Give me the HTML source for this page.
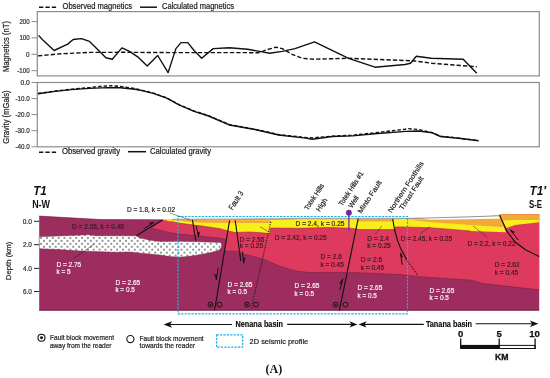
<!DOCTYPE html>
<html><head><meta charset="utf-8"><style>
html,body{margin:0;padding:0;background:#fff;}
svg{display:block;will-change:transform;}
</style></head><body>
<svg width="550" height="378" viewBox="0 0 550 378">
<rect width="550" height="378" fill="#fff"/>
<rect x="37.3" y="11.6" width="502" height="64.3" fill="none" stroke="#8c8c8c" stroke-width="1.2"/>
<line x1="31.5" y1="21.6" x2="37.3" y2="21.6" stroke="#8c8c8c" stroke-width="1" />
<text x="29.6" y="23.900000000000002" font-family='"Liberation Sans", sans-serif' font-size="6.8" fill="#333" font-weight="normal" text-anchor="end"  textLength="10.2" lengthAdjust="spacingAndGlyphs"  stroke="#333" stroke-width="0.22">200</text>
<line x1="31.5" y1="37.9" x2="37.3" y2="37.9" stroke="#8c8c8c" stroke-width="1" />
<text x="29.6" y="40.199999999999996" font-family='"Liberation Sans", sans-serif' font-size="6.8" fill="#333" font-weight="normal" text-anchor="end"  textLength="10.2" lengthAdjust="spacingAndGlyphs"  stroke="#333" stroke-width="0.22">100</text>
<line x1="31.5" y1="54.3" x2="37.3" y2="54.3" stroke="#8c8c8c" stroke-width="1" />
<text x="29.6" y="56.599999999999994" font-family='"Liberation Sans", sans-serif' font-size="6.8" fill="#333" font-weight="normal" text-anchor="end"  textLength="3.5" lengthAdjust="spacingAndGlyphs"  stroke="#333" stroke-width="0.22">0</text>
<line x1="31.5" y1="70.7" x2="37.3" y2="70.7" stroke="#8c8c8c" stroke-width="1" />
<text x="29.6" y="73.0" font-family='"Liberation Sans", sans-serif' font-size="6.8" fill="#333" font-weight="normal" text-anchor="end"  textLength="12.3" lengthAdjust="spacingAndGlyphs"  stroke="#333" stroke-width="0.22">-100</text>
<rect x="37.3" y="82.5" width="502" height="64.3" fill="none" stroke="#8c8c8c" stroke-width="1.2"/>
<line x1="31.5" y1="82.5" x2="37.3" y2="82.5" stroke="#8c8c8c" stroke-width="1" />
<text x="29.8" y="84.8" font-family='"Liberation Sans", sans-serif' font-size="6.8" fill="#333" font-weight="normal" text-anchor="end"  textLength="9.2" lengthAdjust="spacingAndGlyphs"  stroke="#333" stroke-width="0.22">0.0</text>
<line x1="31.5" y1="98.6" x2="37.3" y2="98.6" stroke="#8c8c8c" stroke-width="1" />
<text x="29.8" y="100.89999999999999" font-family='"Liberation Sans", sans-serif' font-size="6.8" fill="#333" font-weight="normal" text-anchor="end"  textLength="14.3" lengthAdjust="spacingAndGlyphs"  stroke="#333" stroke-width="0.22">-10.0</text>
<line x1="31.5" y1="114.6" x2="37.3" y2="114.6" stroke="#8c8c8c" stroke-width="1" />
<text x="29.8" y="116.89999999999999" font-family='"Liberation Sans", sans-serif' font-size="6.8" fill="#333" font-weight="normal" text-anchor="end"  textLength="14.3" lengthAdjust="spacingAndGlyphs"  stroke="#333" stroke-width="0.22">-20.0</text>
<line x1="31.5" y1="130.7" x2="37.3" y2="130.7" stroke="#8c8c8c" stroke-width="1" />
<text x="29.8" y="133.0" font-family='"Liberation Sans", sans-serif' font-size="6.8" fill="#333" font-weight="normal" text-anchor="end"  textLength="14.3" lengthAdjust="spacingAndGlyphs"  stroke="#333" stroke-width="0.22">-30.0</text>
<line x1="31.5" y1="146.8" x2="37.3" y2="146.8" stroke="#8c8c8c" stroke-width="1" />
<text x="29.8" y="149.10000000000002" font-family='"Liberation Sans", sans-serif' font-size="6.8" fill="#333" font-weight="normal" text-anchor="end"  textLength="14.3" lengthAdjust="spacingAndGlyphs"  stroke="#333" stroke-width="0.22">-40.0</text>
<text transform="translate(8.9,46.5) rotate(-90)" x="0" y="0" font-family='"Liberation Sans", sans-serif' font-size="8.2" fill="#222" stroke="#222" stroke-width="0.2" font-weight="normal" text-anchor="middle" textLength="51" lengthAdjust="spacingAndGlyphs">Magnetics (nT)</text>
<text transform="translate(8.8,117) rotate(-90)" x="0" y="0" font-family='"Liberation Sans", sans-serif' font-size="8.2" fill="#222" stroke="#222" stroke-width="0.2" font-weight="normal" text-anchor="middle" textLength="53.3" lengthAdjust="spacingAndGlyphs">Gravity (mGals)</text>
<text transform="translate(10.9,261) rotate(-90)" x="0" y="0" font-family='"Liberation Sans", sans-serif' font-size="8.0" fill="#222" stroke="#222" stroke-width="0.2" font-weight="normal" text-anchor="middle" textLength="38.4" lengthAdjust="spacingAndGlyphs">Depth (km)</text>
<line x1="39" y1="7.2" x2="56.5" y2="7.2" stroke="#111" stroke-width="1.6" stroke-dasharray="4.3,2.1"/>
<text x="62.5" y="8.8" font-family='"Liberation Sans", sans-serif' font-size="8.4" fill="#222" font-weight="normal" text-anchor="start"  textLength="69.5" lengthAdjust="spacingAndGlyphs"  stroke="#222" stroke-width="0.22">Observed magnetics</text>
<line x1="140" y1="7.2" x2="157" y2="7.2" stroke="#111" stroke-width="1.5" />
<text x="162" y="8.8" font-family='"Liberation Sans", sans-serif' font-size="8.4" fill="#222" font-weight="normal" text-anchor="start"  textLength="72" lengthAdjust="spacingAndGlyphs"  stroke="#222" stroke-width="0.22">Calculated magnetics</text>
<line x1="39" y1="152.2" x2="56.5" y2="152.2" stroke="#111" stroke-width="1.6" stroke-dasharray="4.3,2.1"/>
<text x="62" y="154" font-family='"Liberation Sans", sans-serif' font-size="8.4" fill="#222" font-weight="normal" text-anchor="start"  textLength="58" lengthAdjust="spacingAndGlyphs"  stroke="#222" stroke-width="0.22">Observed gravity</text>
<line x1="128" y1="151.7" x2="146" y2="151.7" stroke="#111" stroke-width="1.5" />
<text x="150" y="154" font-family='"Liberation Sans", sans-serif' font-size="8.4" fill="#222" font-weight="normal" text-anchor="start"  textLength="61" lengthAdjust="spacingAndGlyphs"  stroke="#222" stroke-width="0.22">Calculated gravity</text>
<polyline points="38.6,35.4 42.3,39.5 54.1,50.5 67.7,44.1 73.2,39.5 81.4,38.6 89.5,41.4 97.7,49.5 105.9,57.7 112.3,59.2 121.9,47.9 129.5,51.4 137.7,56.8 147.2,65.9 157.7,55.5 168.1,72.6 175.9,48.6 181.0,42.6 187.7,42.6 194.1,50.5 201.7,58.3 213.2,48.6 229.5,47.7 247.7,49.2 262.3,51.9 269.5,53.2 282.3,51.4 295.0,48.6 314.5,41.9 348.6,58.3 375.0,67.2 405.0,64.5 410.5,63.2 416.3,56.3 431.4,58.3 463.2,59.2 476.8,73.2" fill="none" stroke="#111" stroke-width="1.4" stroke-linejoin="round" />
<polyline points="38.0,55.9 60.0,53.8 90.0,52.4 125.0,52.3 170.0,52.6 215.0,52.6 258.6,52.7 267.7,49.5 275.9,47.2 282.3,48.6 291.4,54.1 302.3,58.3 314.0,59.2 348.6,58.3 405.0,60.5 415.0,61.0 431.4,63.2 476.8,66.8" fill="none" stroke="#111" stroke-width="1.4" stroke-linejoin="round" stroke-dasharray="4.3,2.1"/>
<polyline points="38.0,93.8 53.2,91.6 71.4,89.6 89.5,88.4 107.7,87.6 120.5,87.7 135.0,89.2 143.2,90.9 154.1,93.6 166.8,98.2 179.5,105.1 194.1,111.3 208.6,116.0 225.0,123.1 229.5,125.0 255.0,129.5 278.6,135.0 305.9,138.1 312.3,139.2 332.3,136.5 352.3,135.9 377.7,133.5 405.9,131.4 418.6,131.0 432.3,132.8 440.5,136.5 458.6,138.3 478.6,140.8" fill="none" stroke="#111" stroke-width="1.4" stroke-linejoin="round" />
<polyline points="38.0,93.5 53.2,91.3 71.4,89.2 89.5,87.6 100.0,86.4 107.7,85.9 111.4,85.8 120.5,86.4 135.0,88.6 143.2,90.6 154.1,93.3 166.8,98.0 179.5,104.8 194.1,111.0 208.6,115.7 225.0,122.6 229.5,124.6 255.0,129.2 278.6,134.6 305.9,137.5 312.3,137.9 332.3,136.1 352.3,135.3 377.7,132.5 405.0,129.2 407.7,128.6 418.6,129.5 432.3,132.6 440.5,136.2 458.6,138.1 478.6,140.6" fill="none" stroke="#111" stroke-width="1.4" stroke-linejoin="round" stroke-dasharray="3.5,2"/>
<polygon points="39.2,216.0 100.0,219.4 160.0,219.8 230.0,219.8 300.0,218.6 400.0,218.7 430.0,218.3 470.0,216.9 499.3,215.6 500.0,214.3 539.2,214.2 539.2,310.6 39.2,310.6" fill="#9E2D5F" stroke="none" stroke-width="0" />
<polygon points="151.5,228.2 161.0,230.4 172.0,233.2 180.0,234.0 190.0,235.1 200.0,236.1 212.0,237.3 220.0,238.0 226.3,239.6 224.6,251.0 240.3,251.5 241.0,254.0 247.6,255.0 255.0,256.8 262.9,259.1 270.0,262.0 278.2,265.5 288.0,268.8 297.3,271.2 310.0,272.5 345.5,272.3 367.3,273.0 400.0,274.6 418.2,276.5 471.7,280.2 483.0,283.6 539.2,289.8 539.2,214.2 500.0,214.3 499.3,215.6 470.0,216.9 430.0,218.3 400.0,218.7 300.0,218.6 230.0,219.8 162.7,219.9" fill="#DE3A5E" stroke="none" stroke-width="0" />
<polygon points="163.7,219.8 170.0,221.4 180.0,223.3 190.0,224.6 200.0,225.8 210.0,227.2 220.0,228.7 228.0,230.9 235.0,232.5 250.0,232.0 265.0,233.1 269.5,233.6 270.5,228.0 300.0,228.3 330.0,227.4 350.0,228.2 360.0,229.5 394.5,229.5 395.5,227.0 400.0,226.9 430.0,227.7 470.0,230.9 506.0,232.3 506.0,232.3 499.5,216.0 470.0,217.4 430.0,218.6 400.0,219.0 300.0,219.0 230.0,220.2 163.7,219.8" fill="#F8EE1A" stroke="none" stroke-width="0" />
<polygon points="500.0,215.8 539.2,215.8 539.2,222.3 515.0,225.0 506.2,228.0" fill="#F8EE1A" stroke="none" stroke-width="0" />
<polygon points="176.0,220.0 198.0,220.1 215.0,220.2 271.2,220.4 271.0,223.1 215.0,223.0 198.0,222.6 185.0,221.4" fill="#F3A83A" stroke="none" stroke-width="0" />
<polygon points="358.3,218.6 392.8,218.7 393.2,221.6 357.8,221.5" fill="#F3A83A" stroke="none" stroke-width="0" />
<polygon points="408.0,219.6 430.0,219.4 470.0,218.9 499.6,218.4 505.1,227.3 490.0,226.3 470.0,225.0 450.0,223.5 430.0,222.0 415.0,220.6" fill="#F3A83A" stroke="none" stroke-width="0" />
<polygon points="500.0,214.3 539.2,214.2 539.2,220.0 515.0,220.0 503.0,220.5 501.0,218.0" fill="#F3A83A" stroke="none" stroke-width="0" />
<polygon points="420.0,218.2 470.0,216.9 499.3,215.6 499.6,218.5 470.0,219.3 430.0,219.4" fill="#ffffff" stroke="none" stroke-width="0" />
<polyline points="172.0,219.5 230.0,219.3 270.0,219.0 300.0,218.5 400.0,218.5" fill="none" stroke="#a8a8a8" stroke-width="1.5" stroke-linejoin="round" />
<polyline points="400.0,218.5 430.0,217.9 470.0,216.8 499.3,215.8" fill="none" stroke="#9a9a9a" stroke-width="1.0" stroke-linejoin="round" />
<polyline points="170.0,221.4 180.0,223.3 190.0,224.6 200.0,225.8 210.0,227.2 220.0,228.7 228.0,230.9 235.0,232.5 250.0,232.0 265.0,233.1 269.5,233.6 270.5,228.0 300.0,228.3 330.0,227.4 350.0,228.2 360.0,229.5 394.5,229.5 395.5,227.0 400.0,226.9 430.0,227.7 470.0,230.9" fill="none" stroke="#9a2a3a" stroke-width="0.6" stroke-linejoin="round" />
<defs><pattern id="dots" x="40.1" y="236.9" width="5.85" height="5.9" patternUnits="userSpaceOnUse"><rect width="5.85" height="5.9" fill="#fff"/><rect x="0.4" y="0.2" width="1.2" height="1.6" fill="#262626"/><rect x="3.32" y="3.15" width="1.2" height="1.6" fill="#262626"/></pattern></defs>
<polygon points="39.2,236.7 88.7,234.8 96.0,235.7 135.8,235.8 140.0,237.9 150.0,240.2 160.0,241.6 180.0,241.3 200.0,241.8 220.0,242.6 221.8,243.6 221.4,247.5 218.5,250.5 210.0,252.7 195.0,255.5 180.0,257.3 170.0,256.6 160.0,255.1 140.9,253.2 130.0,252.0 115.4,252.3 81.3,251.1 59.0,249.6 39.2,248.7" fill="url(#dots)" stroke="#5a2a3a" stroke-width="0.4" />
<polyline points="136.6,235.5 162.6,220.1" fill="none" stroke="#111" stroke-width="1.15" stroke-linejoin="round" />
<polyline points="192.4,219.8 195.8,240.6" fill="none" stroke="#111" stroke-width="1.1" stroke-linejoin="round" />
<polyline points="229.6,220.4 215.6,304.6 214.1,310.4" fill="none" stroke="#111" stroke-width="1.1" stroke-linejoin="round" />
<polyline points="235.2,220.4 240.8,261.1" fill="none" stroke="#111" stroke-width="1.1" stroke-linejoin="round" />
<polyline points="270.8,222.0 264.4,250.5 251.2,308.5" fill="none" stroke="#1a1a1a" stroke-width="1.25" stroke-linejoin="round" stroke-dasharray="1.0,1.3"/>
<polyline points="358.2,218.5 339.3,310.9" fill="none" stroke="#111" stroke-width="1.15" stroke-linejoin="round" />
<polyline points="392.7,218.8 394.5,229.5 397.4,240.0 400.6,248.4 405.8,258.0 407.4,261.0" fill="none" stroke="#111" stroke-width="1.1" stroke-linejoin="round" />
<polyline points="407.4,261.0 418.0,275.5" fill="none" stroke="#111" stroke-width="1.0" stroke-linejoin="round" stroke-dasharray="1.8,1.3"/>
<polyline points="499.6,215.3 506.9,231.2 514.8,241.7 525.4,249.7 539.2,256.4" fill="none" stroke="#111" stroke-width="1.15" stroke-linejoin="round" />
<line x1="39.2" y1="310.1" x2="539.2" y2="310.1" stroke="#6a1a40" stroke-width="0.9" />
<polyline points="39.2,216.1 100.0,219.5 163.0,219.8" fill="none" stroke="#6a1a40" stroke-width="0.6" stroke-linejoin="round" />
<polyline points="151.5,228.2 161.0,230.4 172.0,233.2 180.0,234.0 190.0,235.1 200.0,236.1 212.0,237.3 220.0,238.0 226.3,239.6" fill="none" stroke="#6a2038" stroke-width="0.5" stroke-linejoin="round" />
<polyline points="224.6,251.0 240.3,251.5 241.0,254.0 247.6,255.0 255.0,256.8 262.9,259.1 270.0,262.0 278.2,265.5 288.0,268.8 297.3,271.2 310.0,272.5 345.5,272.3 367.3,273.0 400.0,274.6 418.2,276.5 471.7,280.2 483.0,283.6 539.2,289.8" fill="none" stroke="#6a2038" stroke-width="0.5" stroke-linejoin="round" />
<line x1="144" y1="228.9" x2="153.8" y2="222.4" stroke="#111" stroke-width="1.0" stroke-linecap="round"/>
<polygon points="153.8,222.4 149.6,222.7 150.8,224.4" fill="#111" stroke="#111" stroke-width="0.4" />
<line x1="196.3" y1="226.4" x2="198.5" y2="236.5" stroke="#111" stroke-width="1.0" stroke-linecap="round"/>
<polygon points="198.5,236.5 199.8,231.9 197.7,233.0" fill="#111" stroke="#111" stroke-width="0.4" />
<line x1="218.1" y1="268.2" x2="216.3" y2="279.5" stroke="#111" stroke-width="1.0" stroke-linecap="round"/>
<polygon points="216.3,279.5 214.6,274.2 216.9,275.9" fill="#111" stroke="#111" stroke-width="0.4" />
<line x1="242.5" y1="252.1" x2="243.7" y2="262.9" stroke="#111" stroke-width="1.0" stroke-linecap="round"/>
<polygon points="243.7,262.9 245.3,257.6 243.3,259.3" fill="#111" stroke="#111" stroke-width="0.4" />
<line x1="339.9" y1="289.8" x2="342.7" y2="279.1" stroke="#111" stroke-width="1.0" stroke-linecap="round"/>
<polygon points="342.7,279.1 339.6,283.4 341.8,282.6" fill="#111" stroke="#111" stroke-width="0.4" />
<line x1="402.1" y1="264.3" x2="400.6" y2="253.2" stroke="#111" stroke-width="1.0" stroke-linecap="round"/>
<polygon points="400.6,253.2 402.9,257.2 401.1,256.8" fill="#111" stroke="#111" stroke-width="0.4" />
<line x1="518.1" y1="239.8" x2="510.2" y2="229.8" stroke="#111" stroke-width="1.0" stroke-linecap="round"/>
<polygon points="510.2,229.8 514.6,232.2 512.4,232.6" fill="#111" stroke="#111" stroke-width="0.4" />
<circle cx="210.5" cy="304.6" r="2.4" fill="none" stroke="#111" stroke-width="0.95"/><circle cx="210.5" cy="304.6" r="0.95" fill="#111"/>
<circle cx="219.5" cy="304.6" r="2.4" fill="none" stroke="#111" stroke-width="0.95"/>
<circle cx="247" cy="304.6" r="2.4" fill="none" stroke="#111" stroke-width="0.95"/><circle cx="247" cy="304.6" r="0.95" fill="#111"/>
<circle cx="256" cy="304.6" r="2.4" fill="none" stroke="#111" stroke-width="0.95"/>
<circle cx="335.6" cy="304.6" r="2.4" fill="none" stroke="#111" stroke-width="0.95"/><circle cx="335.6" cy="304.6" r="0.95" fill="#111"/>
<circle cx="345.5" cy="304.6" r="2.4" fill="none" stroke="#111" stroke-width="0.95"/>
<rect x="178" y="216.5" width="229.5" height="97.3" fill="none" stroke="#1CAEE6" stroke-width="1.2" stroke-dasharray="2.2,1.2"/>
<line x1="348.9" y1="213" x2="348.9" y2="230.8" stroke="#7a3296" stroke-width="1.3" />
<circle cx="348.9" cy="212.7" r="2.9" fill="#6a2a92"/>
<line x1="170" y1="213" x2="190.4" y2="220" stroke="#333" stroke-width="0.5" />
<line x1="94.3" y1="244" x2="73.7" y2="258.5" stroke="#222" stroke-width="0.5" />
<line x1="260" y1="226.7" x2="268.2" y2="231.6" stroke="#222" stroke-width="0.5" />
<line x1="375.5" y1="234.1" x2="381.8" y2="225.9" stroke="#222" stroke-width="0.5" />
<line x1="420" y1="234.1" x2="430" y2="226.5" stroke="#222" stroke-width="0.5" />
<line x1="473" y1="226" x2="487" y2="237" stroke="#222" stroke-width="0.5" />
<text x="72" y="228.85" font-family='"Liberation Sans", sans-serif' font-size="8.1" fill="#3b1a24" font-weight="normal" text-anchor="start"  textLength="52" lengthAdjust="spacingAndGlyphs"  stroke="#3b1a24" stroke-width="0.22">D = 2.65, k = 0.48</text>
<text x="127" y="211.65" font-family='"Liberation Sans", sans-serif' font-size="8.1" fill="#222" font-weight="normal" text-anchor="start"  textLength="48" lengthAdjust="spacingAndGlyphs"  stroke="#222" stroke-width="0.22">D = 1.8, k = 0.02</text>
<text x="56.4" y="267.25" font-family='"Liberation Sans", sans-serif' font-size="8.1" fill="#faf2f6" font-weight="normal" text-anchor="start"  textLength="24.8" lengthAdjust="spacingAndGlyphs"  stroke="#faf2f6" stroke-width="0.22">D = 2.75</text>
<text x="56.4" y="274.25" font-family='"Liberation Sans", sans-serif' font-size="8.1" fill="#faf2f6" font-weight="normal" text-anchor="start"  textLength="14.2" lengthAdjust="spacingAndGlyphs"  stroke="#faf2f6" stroke-width="0.22">k = 5</text>
<text x="115.4" y="284.5" font-family='"Liberation Sans", sans-serif' font-size="8.1" fill="#faf2f6" font-weight="normal" text-anchor="start"  textLength="24.8" lengthAdjust="spacingAndGlyphs"  stroke="#faf2f6" stroke-width="0.22">D = 2.65</text>
<text x="115.4" y="291.5" font-family='"Liberation Sans", sans-serif' font-size="8.1" fill="#faf2f6" font-weight="normal" text-anchor="start"  textLength="19.4" lengthAdjust="spacingAndGlyphs"  stroke="#faf2f6" stroke-width="0.22">k = 0.5</text>
<text x="239.8" y="241.5" font-family='"Liberation Sans", sans-serif' font-size="8.1" fill="#3b1a24" font-weight="normal" text-anchor="start"  textLength="24.6" lengthAdjust="spacingAndGlyphs"  stroke="#3b1a24" stroke-width="0.22">D = 2.55</text>
<text x="239.8" y="248.4" font-family='"Liberation Sans", sans-serif' font-size="8.1" fill="#3b1a24" font-weight="normal" text-anchor="start"  textLength="23.2" lengthAdjust="spacingAndGlyphs"  stroke="#3b1a24" stroke-width="0.22">k = 0.25</text>
<text x="227.6" y="286.5" font-family='"Liberation Sans", sans-serif' font-size="8.1" fill="#faf2f6" font-weight="normal" text-anchor="start"  textLength="24.8" lengthAdjust="spacingAndGlyphs"  stroke="#faf2f6" stroke-width="0.22">D = 2.65</text>
<text x="227.6" y="293.75" font-family='"Liberation Sans", sans-serif' font-size="8.1" fill="#faf2f6" font-weight="normal" text-anchor="start"  textLength="19.4" lengthAdjust="spacingAndGlyphs"  stroke="#faf2f6" stroke-width="0.22">k = 0.5</text>
<text x="274.8" y="239.65" font-family='"Liberation Sans", sans-serif' font-size="8.1" fill="#3b1a24" font-weight="normal" text-anchor="start"  textLength="51.8" lengthAdjust="spacingAndGlyphs"  stroke="#3b1a24" stroke-width="0.22">D = 2.42, k = 0.25</text>
<text x="295.5" y="226.04999999999998" font-family='"Liberation Sans", sans-serif' font-size="8.1" fill="#3b1a24" font-weight="normal" text-anchor="start"  textLength="49" lengthAdjust="spacingAndGlyphs"  stroke="#3b1a24" stroke-width="0.22">D = 2.4, k = 0.25</text>
<text x="320.4" y="259.20000000000005" font-family='"Liberation Sans", sans-serif' font-size="8.1" fill="#3b1a24" font-weight="normal" text-anchor="start"  textLength="21.6" lengthAdjust="spacingAndGlyphs"  stroke="#3b1a24" stroke-width="0.22">D = 2.6</text>
<text x="320.4" y="266.75" font-family='"Liberation Sans", sans-serif' font-size="8.1" fill="#3b1a24" font-weight="normal" text-anchor="start"  textLength="23.4" lengthAdjust="spacingAndGlyphs"  stroke="#3b1a24" stroke-width="0.22">k = 0.45</text>
<text x="294.6" y="288.25" font-family='"Liberation Sans", sans-serif' font-size="8.1" fill="#faf2f6" font-weight="normal" text-anchor="start"  textLength="24.8" lengthAdjust="spacingAndGlyphs"  stroke="#faf2f6" stroke-width="0.22">D = 2.65</text>
<text x="294.6" y="295.8" font-family='"Liberation Sans", sans-serif' font-size="8.1" fill="#faf2f6" font-weight="normal" text-anchor="start"  textLength="19.4" lengthAdjust="spacingAndGlyphs"  stroke="#faf2f6" stroke-width="0.22">k = 0.5</text>
<text x="367.3" y="241.1" font-family='"Liberation Sans", sans-serif' font-size="8.1" fill="#3b1a24" font-weight="normal" text-anchor="start"  textLength="21.6" lengthAdjust="spacingAndGlyphs"  stroke="#3b1a24" stroke-width="0.22">D = 2.4</text>
<text x="367.3" y="247.75" font-family='"Liberation Sans", sans-serif' font-size="8.1" fill="#3b1a24" font-weight="normal" text-anchor="start"  textLength="23.4" lengthAdjust="spacingAndGlyphs"  stroke="#3b1a24" stroke-width="0.22">k = 0.25</text>
<text x="360.7" y="262.40000000000003" font-family='"Liberation Sans", sans-serif' font-size="8.1" fill="#3b1a24" font-weight="normal" text-anchor="start"  textLength="21.6" lengthAdjust="spacingAndGlyphs"  stroke="#3b1a24" stroke-width="0.22">D = 2.6</text>
<text x="360.7" y="269.75" font-family='"Liberation Sans", sans-serif' font-size="8.1" fill="#3b1a24" font-weight="normal" text-anchor="start"  textLength="23.4" lengthAdjust="spacingAndGlyphs"  stroke="#3b1a24" stroke-width="0.22">k = 0.45</text>
<text x="357.5" y="290.1" font-family='"Liberation Sans", sans-serif' font-size="8.1" fill="#faf2f6" font-weight="normal" text-anchor="start"  textLength="24.8" lengthAdjust="spacingAndGlyphs"  stroke="#faf2f6" stroke-width="0.22">D = 2.65</text>
<text x="357.5" y="297.65000000000003" font-family='"Liberation Sans", sans-serif' font-size="8.1" fill="#faf2f6" font-weight="normal" text-anchor="start"  textLength="19.4" lengthAdjust="spacingAndGlyphs"  stroke="#faf2f6" stroke-width="0.22">k = 0.5</text>
<text x="400.7" y="240.75" font-family='"Liberation Sans", sans-serif' font-size="8.1" fill="#3b1a24" font-weight="normal" text-anchor="start"  textLength="51.3" lengthAdjust="spacingAndGlyphs"  stroke="#3b1a24" stroke-width="0.22">D = 2.45, k = 0.25</text>
<text x="467.5" y="246.45" font-family='"Liberation Sans", sans-serif' font-size="8.1" fill="#3b1a24" font-weight="normal" text-anchor="start"  textLength="48" lengthAdjust="spacingAndGlyphs"  stroke="#3b1a24" stroke-width="0.22">D = 2.2, k = 0.22</text>
<text x="494.8" y="267.20000000000005" font-family='"Liberation Sans", sans-serif' font-size="8.1" fill="#3b1a24" font-weight="normal" text-anchor="start"  textLength="24.8" lengthAdjust="spacingAndGlyphs"  stroke="#3b1a24" stroke-width="0.22">D = 2.62</text>
<text x="494.8" y="275.45000000000005" font-family='"Liberation Sans", sans-serif' font-size="8.1" fill="#3b1a24" font-weight="normal" text-anchor="start"  textLength="23.4" lengthAdjust="spacingAndGlyphs"  stroke="#3b1a24" stroke-width="0.22">k = 0.45</text>
<text x="429.5" y="292.6" font-family='"Liberation Sans", sans-serif' font-size="8.1" fill="#faf2f6" font-weight="normal" text-anchor="start"  textLength="24.8" lengthAdjust="spacingAndGlyphs"  stroke="#faf2f6" stroke-width="0.22">D = 2.65</text>
<text x="429.5" y="300.25" font-family='"Liberation Sans", sans-serif' font-size="8.1" fill="#faf2f6" font-weight="normal" text-anchor="start"  textLength="19.4" lengthAdjust="spacingAndGlyphs"  stroke="#faf2f6" stroke-width="0.22">k = 0.5</text>
<text x="33.2" y="194.9" font-family='"Liberation Sans", sans-serif' font-size="13.7" fill="#111" font-weight="bold" text-anchor="start" font-style="italic" textLength="13.6" lengthAdjust="spacingAndGlyphs" >T1</text>
<text x="32.2" y="208.1" font-family='"Liberation Sans", sans-serif' font-size="10.8" fill="#111" font-weight="bold" text-anchor="start"  textLength="17.8" lengthAdjust="spacingAndGlyphs" >N-W</text>
<text x="529.6" y="195.1" font-family='"Liberation Sans", sans-serif' font-size="13.7" fill="#111" font-weight="bold" text-anchor="start" font-style="italic" textLength="16.6" lengthAdjust="spacingAndGlyphs" >T1&#8242;</text>
<text x="529" y="207.8" font-family='"Liberation Sans", sans-serif' font-size="10.4" fill="#111" font-weight="bold" text-anchor="start"  textLength="13.1" lengthAdjust="spacingAndGlyphs" >S-E</text>
<text transform="translate(238.19,201.79) rotate(-57)" font-family='"Liberation Sans", sans-serif' font-size="7.8" fill="#222" stroke="#222" stroke-width="0.18" text-anchor="middle" textLength="21" lengthAdjust="spacingAndGlyphs">Fault 3</text>
<text transform="translate(316.25,198.13) rotate(-57)" font-family='"Liberation Sans", sans-serif' font-size="7.0" fill="#222" stroke="#222" stroke-width="0.18" text-anchor="middle" textLength="30" lengthAdjust="spacingAndGlyphs">Totek Hills</text>
<text transform="translate(323.65,205.93) rotate(-57)" font-family='"Liberation Sans", sans-serif' font-size="7.0" fill="#222" stroke="#222" stroke-width="0.18" text-anchor="middle" textLength="14.3" lengthAdjust="spacingAndGlyphs">High</text>
<text transform="translate(353.05,189.93) rotate(-57)" font-family='"Liberation Sans", sans-serif' font-size="7.0" fill="#222" stroke="#222" stroke-width="0.18" text-anchor="middle" textLength="39.5" lengthAdjust="spacingAndGlyphs">Totek Hills #1</text>
<text transform="translate(355.55,203.13) rotate(-57)" font-family='"Liberation Sans", sans-serif' font-size="7.0" fill="#222" stroke="#222" stroke-width="0.18" text-anchor="middle" textLength="12.9" lengthAdjust="spacingAndGlyphs">Well</text>
<text transform="translate(371.55,198.23) rotate(-57)" font-family='"Liberation Sans", sans-serif' font-size="7.0" fill="#222" stroke="#222" stroke-width="0.18" text-anchor="middle" textLength="37.7" lengthAdjust="spacingAndGlyphs">Minto Fault</text>
<text transform="translate(407.75,188.33) rotate(-57)" font-family='"Liberation Sans", sans-serif' font-size="7.0" fill="#222" stroke="#222" stroke-width="0.18" text-anchor="middle" textLength="59.5" lengthAdjust="spacingAndGlyphs">Northern Foothills</text>
<text transform="translate(413.25,194.43) rotate(-57)" font-family='"Liberation Sans", sans-serif' font-size="7.0" fill="#222" stroke="#222" stroke-width="0.18" text-anchor="middle" textLength="38.5" lengthAdjust="spacingAndGlyphs">Thrust Fault</text>
<line x1="34" y1="221.3" x2="39.3" y2="221.3" stroke="#222" stroke-width="1" />
<text x="31.9" y="223.60000000000002" font-family='"Liberation Sans", sans-serif' font-size="6.8" fill="#333" font-weight="normal" text-anchor="end"  textLength="9.2" lengthAdjust="spacingAndGlyphs"  stroke="#333" stroke-width="0.22">0.0</text>
<line x1="34" y1="244.7" x2="39.3" y2="244.7" stroke="#222" stroke-width="1" />
<text x="31.9" y="247.0" font-family='"Liberation Sans", sans-serif' font-size="6.8" fill="#333" font-weight="normal" text-anchor="end"  textLength="9.0" lengthAdjust="spacingAndGlyphs"  stroke="#333" stroke-width="0.22">2.0</text>
<line x1="34" y1="268.4" x2="39.3" y2="268.4" stroke="#222" stroke-width="1" />
<text x="31.9" y="270.7" font-family='"Liberation Sans", sans-serif' font-size="6.8" fill="#333" font-weight="normal" text-anchor="end"  textLength="9.0" lengthAdjust="spacingAndGlyphs"  stroke="#333" stroke-width="0.22">4.0</text>
<line x1="34" y1="291.5" x2="39.3" y2="291.5" stroke="#222" stroke-width="1" />
<text x="31.9" y="293.8" font-family='"Liberation Sans", sans-serif' font-size="6.8" fill="#333" font-weight="normal" text-anchor="end"  textLength="9.0" lengthAdjust="spacingAndGlyphs"  stroke="#333" stroke-width="0.22">6.0</text>
<line x1="166" y1="324.5" x2="232" y2="324.5" stroke="#111" stroke-width="1.1" />
<polygon points="163.6,324.5 172.0,321.3 170.0,324.5 172.0,327.7" fill="#111" stroke="none" stroke-width="0" />
<text x="235.5" y="327.2" font-family='"Liberation Sans", sans-serif' font-size="9" fill="#111" font-weight="bold" text-anchor="start"  textLength="47.5" lengthAdjust="spacingAndGlyphs"  stroke="#111" stroke-width="0.2">Nenana basin</text>
<line x1="287.2" y1="324.4" x2="352" y2="324.4" stroke="#111" stroke-width="1.1" />
<polygon points="357.5,324.4 349.5,321.2 351.5,324.4 349.5,327.6" fill="#111" stroke="none" stroke-width="0" />
<polygon points="358.5,324.4 366.5,321.2 364.5,324.4 366.5,327.6" fill="#111" stroke="none" stroke-width="0" />
<line x1="364" y1="324.4" x2="423.8" y2="324.4" stroke="#111" stroke-width="1.1" />
<text x="425.9" y="327" font-family='"Liberation Sans", sans-serif' font-size="9" fill="#111" font-weight="bold" text-anchor="start"  textLength="46.1" lengthAdjust="spacingAndGlyphs"  stroke="#111" stroke-width="0.2">Tanana basin</text>
<line x1="475.6" y1="323.8" x2="533" y2="323.8" stroke="#111" stroke-width="1.1" />
<polygon points="538.4,323.8 530.0,320.6 532.0,323.8 530.0,327.0" fill="#111" stroke="none" stroke-width="0" />
<text x="460.7" y="336.5" font-family='"Liberation Sans", sans-serif' font-size="9.6" fill="#111" font-weight="bold" text-anchor="middle"    stroke="#111" stroke-width="0.25">0</text>
<text x="499.2" y="336.5" font-family='"Liberation Sans", sans-serif' font-size="9.6" fill="#111" font-weight="bold" text-anchor="middle"    stroke="#111" stroke-width="0.25">5</text>
<text x="534.6" y="336.5" font-family='"Liberation Sans", sans-serif' font-size="9.6" fill="#111" font-weight="bold" text-anchor="middle"    stroke="#111" stroke-width="0.25">10</text>
<rect x="460.7" y="344.9" width="38.5" height="4.1" fill="#111"/>
<rect x="499.2" y="345.4" width="35.9" height="3.1" fill="#fff" stroke="#111" stroke-width="1.0"/>
<line x1="460.7" y1="338.4" x2="460.7" y2="349" stroke="#111" stroke-width="1.3" />
<line x1="499.2" y1="338.4" x2="499.2" y2="349" stroke="#111" stroke-width="1.3" />
<line x1="535.1" y1="338.4" x2="535.1" y2="349" stroke="#111" stroke-width="1.3" />
<text x="501.8" y="359.9" font-family='"Liberation Sans", sans-serif' font-size="9.4" fill="#111" font-weight="bold" text-anchor="middle"  textLength="13.6" lengthAdjust="spacingAndGlyphs"  stroke="#111" stroke-width="0.3">KM</text>
<circle cx="41.5" cy="337.7" r="3.5" fill="none" stroke="#111" stroke-width="1.1"/><circle cx="41.5" cy="337.7" r="1.45" fill="#111"/>
<circle cx="130.4" cy="339.1" r="3.6" fill="none" stroke="#111" stroke-width="1.1"/>
<text x="50" y="340" font-family='"Liberation Sans", sans-serif' font-size="7.6" fill="#222" font-weight="normal" text-anchor="start"  textLength="64" lengthAdjust="spacingAndGlyphs"  stroke="#222" stroke-width="0.22">Fault block movement</text>
<text x="50" y="348.4" font-family='"Liberation Sans", sans-serif' font-size="7.6" fill="#222" font-weight="normal" text-anchor="start"  textLength="61.5" lengthAdjust="spacingAndGlyphs"  stroke="#222" stroke-width="0.22">away from the reader</text>
<text x="139.6" y="340.6" font-family='"Liberation Sans", sans-serif' font-size="7.6" fill="#222" font-weight="normal" text-anchor="start"  textLength="64" lengthAdjust="spacingAndGlyphs"  stroke="#222" stroke-width="0.22">Fault block movement</text>
<text x="139.6" y="348.4" font-family='"Liberation Sans", sans-serif' font-size="7.6" fill="#222" font-weight="normal" text-anchor="start"  textLength="55.5" lengthAdjust="spacingAndGlyphs"  stroke="#222" stroke-width="0.22">towards the reader</text>
<rect x="216.6" y="334.9" width="26" height="12.3" fill="none" stroke="#1CAEE6" stroke-width="1.3" stroke-dasharray="2.2,1.2"/>
<text x="249.6" y="343.8" font-family='"Liberation Sans", sans-serif' font-size="8" fill="#222" font-weight="normal" text-anchor="start"  textLength="58.6" lengthAdjust="spacingAndGlyphs"  stroke="#222" stroke-width="0.22">2D seismic profile</text>
<text x="265.6" y="372.9" font-family='"Liberation Serif", serif' font-size="13.2" fill="#111" font-weight="bold" text-anchor="start"  textLength="16.8" lengthAdjust="spacingAndGlyphs" >(A)</text>
</svg>
</body></html>
